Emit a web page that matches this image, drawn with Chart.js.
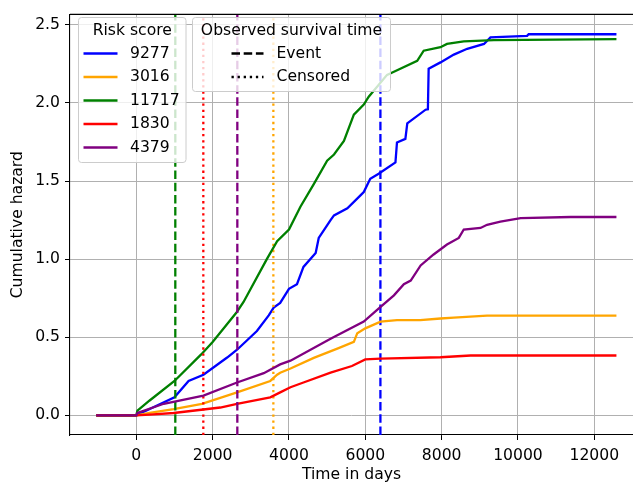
<!DOCTYPE html>
<html>
<head>
<meta charset="utf-8">
<script src="https://cdn.jsdelivr.net/npm/chart.js@4"></script>
<style>
  body { margin: 0; background: #fff; }
  canvas { display: block; }
</style>
</head>
<body>
<canvas id="hazard" width="633" height="485"></canvas>
<script>
// series: time in days, cumulative hazard
let riskScores = ['9277', '3016', '11717', '1830', '4379'];
let lineColors = ['blue', 'orange', 'green', 'red', 'purple'];

let days9277 = [-1050, 0, 350, 1000, 1370, 1760, 2380, 2640, 3160, 3470, 3600, 3770, 4000, 4210, 4380, 4700, 4780, 5090, 5180, 5530, 5880, 5960, 6130, 6350, 6790, 6830, 7050, 7100, 7580, 7640, 7660, 7970, 8320, 8670, 9110, 9280, 10240, 10280, 12580];
let hazard9277 = [0, 0, 0.04, 0.115, 0.22, 0.26, 0.37, 0.42, 0.54, 0.64, 0.69, 0.72, 0.81, 0.84, 0.95, 1.04, 1.136, 1.25, 1.28, 1.326, 1.41, 1.43, 1.515, 1.547, 1.62, 1.747, 1.77, 1.87, 1.957, 1.96, 2.22, 2.26, 2.31, 2.347, 2.378, 2.42, 2.43, 2.44, 2.44];

let days3016 = [-1050, 0, 350, 980, 1720, 2640, 3510, 3690, 3770, 4040, 4650, 5300, 5700, 5790, 6000, 6400, 6830, 7440, 7970, 8320, 9190, 12580];
let hazard3016 = [0, 0, 0.015, 0.04, 0.074, 0.147, 0.22, 0.26, 0.273, 0.30, 0.368, 0.43, 0.47, 0.526, 0.557, 0.60, 0.61, 0.61, 0.62, 0.625, 0.638, 0.638];

let days11717 = [-1050, 0, 30, 350, 1000, 1700, 2000, 2630, 2810, 3420, 3690, 4000, 4300, 4650, 5000, 5180, 5440, 5700, 5960, 6090, 6570, 6750, 7360, 7530, 7970, 8140, 8580, 9370, 12580];
let hazard11717 = [0, 0, 0.03, 0.095, 0.22, 0.39, 0.47, 0.66, 0.726, 1.0, 1.115, 1.19, 1.336, 1.48, 1.63, 1.67, 1.757, 1.925, 1.99, 2.04, 2.18, 2.2, 2.27, 2.335, 2.357, 2.378, 2.395, 2.403, 2.409];

let days1830 = [-1050, 0, 350, 980, 2200, 2640, 3510, 3770, 4040, 4380, 5090, 5650, 6000, 6400, 7970, 8760, 12580];
let hazard1830 = [0, 0, 0.005, 0.015, 0.05, 0.074, 0.115, 0.147, 0.18, 0.21, 0.273, 0.316, 0.358, 0.363, 0.372, 0.383, 0.383];

let days4379 = [-1050, 0, 30, 720, 1760, 2640, 3340, 3770, 4040, 5090, 5960, 6400, 6750, 7010, 7190, 7450, 7790, 8140, 8450, 8580, 9020, 9190, 9540, 10070, 11380, 12580];
let hazard4379 = [0, 0, 0.015, 0.074, 0.126, 0.21, 0.27, 0.326, 0.35, 0.49, 0.60, 0.694, 0.768, 0.84, 0.863, 0.96, 1.03, 1.094, 1.136, 1.19, 1.2, 1.22, 1.24, 1.263, 1.27, 1.27];

let observedDays = [6396, 3591, 1022, 1756, 2647];
let observedKind = ['Event', 'Censored', 'Event', 'Censored', 'Event'];

let xTicks = [0, 2000, 4000, 6000, 8000, 10000, 12000];
let yTicks = [0, 0.5, 1.0, 1.5, 2.0, 2.5];
let xRange = [-1737, 13014];
let yRange = [-0.126, 2.5675];

let allDays = [days9277, days3016, days11717, days1830, days4379];
let allHazard = [hazard9277, hazard3016, hazard11717, hazard1830, hazard4379];

let lw = 2.3;
let dashes = { Event: [3.7 * lw, 1.6 * lw], Censored: [1 * lw, 1.65 * lw] };
let fontSize = 15.6;
let fontFamily = '"DejaVu Sans", sans-serif';

Chart.defaults.font.family = fontFamily;
Chart.defaults.font.size = fontSize;
Chart.defaults.color = '#000';

// build datasets: each curve then its vertical line, like the original plot order
let datasets = [];
let k = 0;
for (let i = 0; i < riskScores.length; i++) {
  datasets.push({
    label: riskScores[i],
    data: allDays[i].map((d, j) => ({ x: d, y: allHazard[i][j] })),
    borderColor: lineColors[i],
    borderWidth: lw,
    pointRadius: 0,
    tension: 0,
    order: 50 - k++
  });
  datasets.push({
    label: riskScores[i] + ' ' + observedKind[i],
    data: [{ x: observedDays[i], y: yRange[0] }, { x: observedDays[i], y: yRange[1] }],
    borderColor: lineColors[i],
    borderWidth: lw,
    borderDash: dashes[observedKind[i]],
    borderCapStyle: 'butt',
    pointRadius: 0,
    order: 50 - k++
  });
}

// matplotlib style legends drawn inside the axes
function drawLegendBox(ctx, box, title, items) {
  ctx.save();
  ctx.beginPath();
  ctx.roundRect(box.x, box.y, box.w, box.h, 3);
  ctx.fillStyle = 'rgba(255,255,255,0.8)';
  ctx.fill();
  ctx.strokeStyle = '#cccccc';
  ctx.lineWidth = 1;
  ctx.stroke();
  ctx.font = fontSize + 'px ' + fontFamily;
  ctx.fillStyle = '#000';
  ctx.textBaseline = 'middle';
  ctx.textAlign = 'center';
  ctx.fillText(title, box.x + box.w / 2, box.y + 13.5);
  ctx.textAlign = 'left';
  items.forEach((it, n) => {
    let y = box.y + 36 + n * 23.5;
    ctx.beginPath();
    ctx.setLineDash(it.dash || []);
    ctx.lineCap = 'butt';
    ctx.strokeStyle = it.color;
    ctx.lineWidth = lw;
    ctx.moveTo(box.lineX, y);
    ctx.lineTo(box.lineX + box.lineLen, y);
    ctx.stroke();
    ctx.setLineDash([]);
    ctx.fillText(it.text, box.textX, y);
  });
  ctx.restore();
}

let legendBoxes = {
  id: 'legendBoxes',
  afterDraw(chart) {
    let ctx = chart.ctx;
    let a = chart.chartArea;
    // top spine
    ctx.save();
    ctx.strokeStyle = '#000';
    ctx.lineWidth = 1.1;
    ctx.beginPath();
    ctx.moveTo(a.left, a.top);
    ctx.lineTo(a.right, a.top);
    ctx.stroke();
    ctx.restore();

    drawLegendBox(ctx, { x: 78.5, y: 17.5, w: 107.5, h: 145, lineX: 83.5, lineLen: 34, textX: 130 }, 'Risk score',
      riskScores.map((r, i) => ({ text: r, color: lineColors[i] })));
    drawLegendBox(ctx, { x: 192.5, y: 17.5, w: 198, h: 74, lineX: 231.5, lineLen: 32, textX: 276.5 }, 'Observed survival time',
      [{ text: 'Event', color: '#000', dash: dashes.Event }, { text: 'Censored', color: '#000', dash: dashes.Censored }]);
  }
};

new Chart(document.getElementById('hazard'), {
  type: 'line',
  data: { datasets: datasets },
  options: {
    responsive: false,
    animation: false,
    devicePixelRatio: 1,
    layout: { padding: { top: 8, right: 0, left: 0, bottom: 0 } },
    plugins: { legend: { display: false }, tooltip: { enabled: false } },
    scales: {
      x: {
        type: 'linear',
        min: xRange[0],
        max: xRange[1],
        afterBuildTicks: s => { s.ticks = xTicks.map(v => ({ value: v })); },
        afterFit: s => { s.height = 50; },
        ticks: { padding: 7, maxRotation: 0, callback: v => String(v) },
        grid: { color: '#b0b0b0', lineWidth: 1, tickColor: '#000', tickLength: 5 },
        border: { color: '#000', width: 1.1 },
        title: { display: true, text: 'Time in days', padding: { top: 0, bottom: 1 } }
      },
      y: {
        type: 'linear',
        min: yRange[0],
        max: yRange[1],
        afterBuildTicks: s => { s.ticks = yTicks.map(v => ({ value: v })); },
        afterFit: s => { s.width = 70; },
        ticks: { padding: 5, callback: v => v.toFixed(1) },
        grid: { color: '#b0b0b0', lineWidth: 1, tickColor: '#000', tickLength: 5 },
        border: { color: '#000', width: 1.1 },
        title: { display: true, text: 'Cumulative hazard', padding: { top: 9, bottom: 0 } }
      }
    }
  },
  plugins: [legendBoxes]
});
</script>
</body>
</html>
